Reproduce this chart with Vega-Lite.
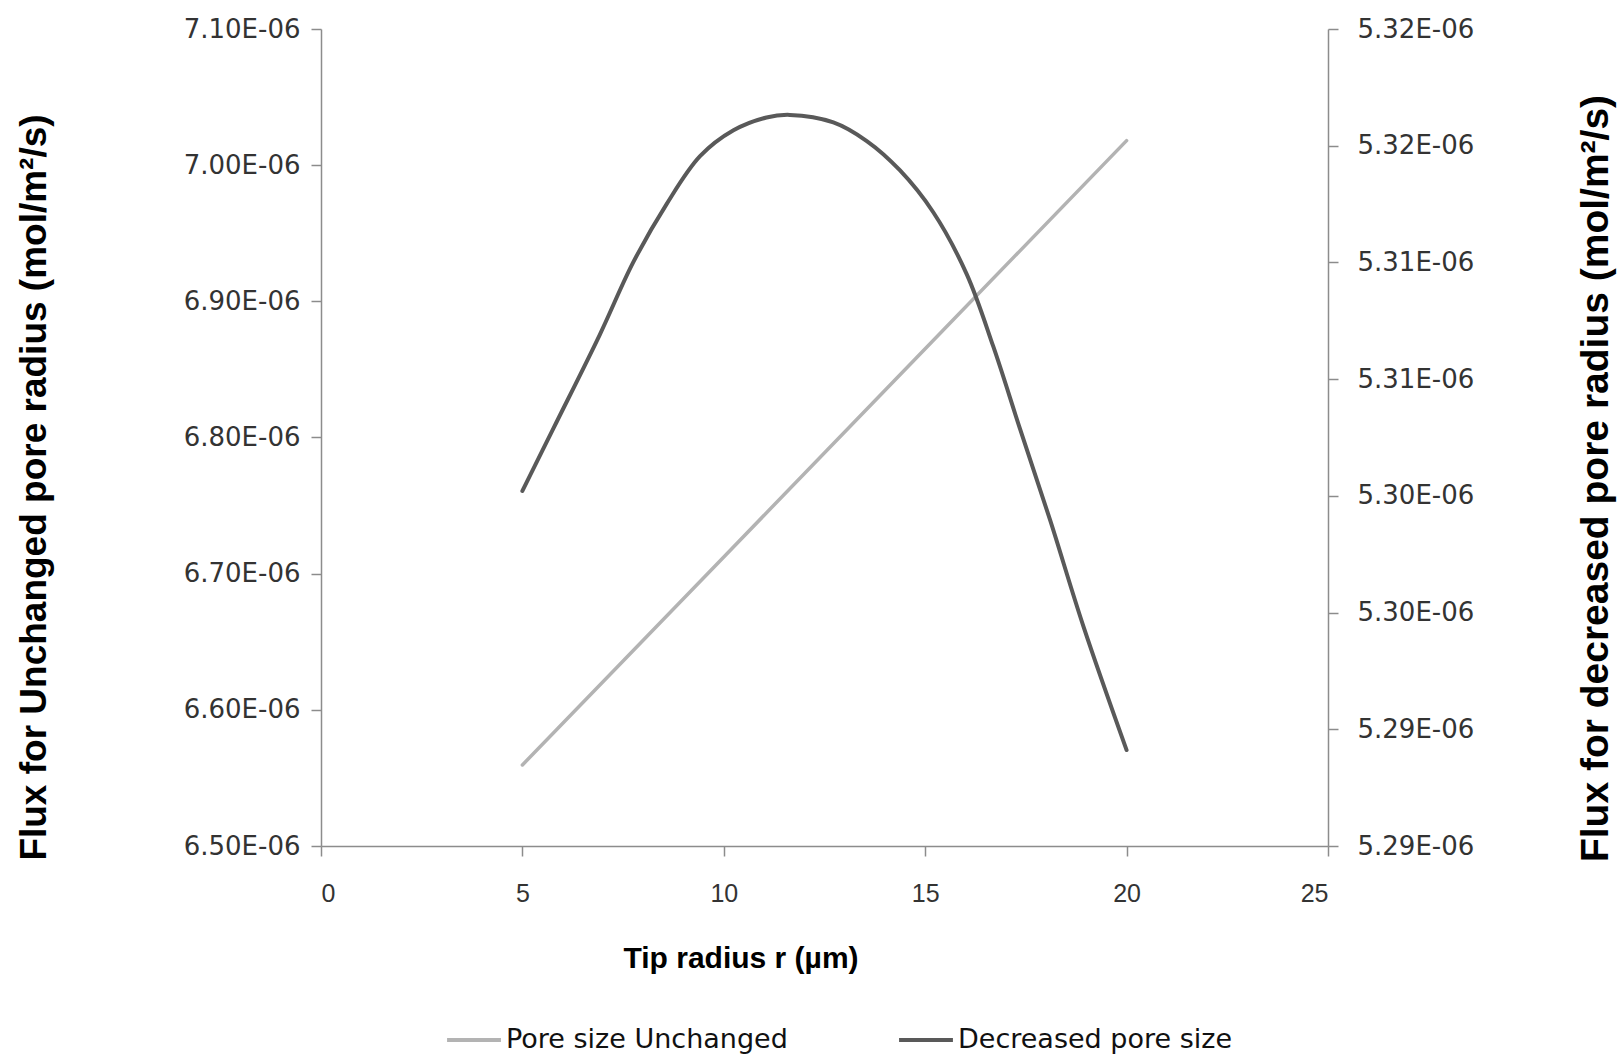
{
  "$schema": "https://vega.github.io/schema/vega-lite/v6.json",
  "width": 1007,
  "height": 817,
  "autosize": {"type": "none"},
  "padding": {"left": 321, "top": 29, "right": 296, "bottom": 213},
  "background": "white",
  "datasets": {
    "unchanged": [
      {"r": 5, "series": "Pore size Unchanged", "flux": 6.5595e-6},
      {"r": 10, "series": "Pore size Unchanged", "flux": 6.7123e-6},
      {"r": 15, "series": "Pore size Unchanged", "flux": 6.8652e-6},
      {"r": 20, "series": "Pore size Unchanged", "flux": 7.018e-6}
    ],
    "decreased": [
      {"r": 5.0, "series": "Decreased pore size", "flux": 5.30021e-6},
      {"r": 5.77, "series": "Decreased pore size", "flux": 5.30289e-6},
      {"r": 6.92, "series": "Decreased pore size", "flux": 5.30690e-6},
      {"r": 7.75, "series": "Decreased pore size", "flux": 5.31000e-6},
      {"r": 8.58, "series": "Decreased pore size", "flux": 5.31250e-6},
      {"r": 9.41, "series": "Decreased pore size", "flux": 5.31455e-6},
      {"r": 10.24, "series": "Decreased pore size", "flux": 5.31566e-6},
      {"r": 11.06, "series": "Decreased pore size", "flux": 5.31621e-6},
      {"r": 11.64, "series": "Decreased pore size", "flux": 5.31632e-6},
      {"r": 12.72, "series": "Decreased pore size", "flux": 5.31600e-6},
      {"r": 13.55, "series": "Decreased pore size", "flux": 5.31520e-6},
      {"r": 14.37, "series": "Decreased pore size", "flux": 5.31395e-6},
      {"r": 15.2, "series": "Decreased pore size", "flux": 5.31215e-6},
      {"r": 16.03, "series": "Decreased pore size", "flux": 5.30950e-6},
      {"r": 16.69, "series": "Decreased pore size", "flux": 5.30640e-6},
      {"r": 17.35, "series": "Decreased pore size", "flux": 5.30289e-6},
      {"r": 18.1, "series": "Decreased pore size", "flux": 5.29897e-6},
      {"r": 18.93, "series": "Decreased pore size", "flux": 5.2944e-6},
      {"r": 20.0, "series": "Decreased pore size", "flux": 5.28911e-6}
    ]
  },
  "layer": [
    {
      "data": {"name": "unchanged"},
      "mark": {"type": "line", "strokeWidth": 3.5, "strokeCap": "round"},
      "encoding": {
        "x": {
          "field": "r",
          "type": "quantitative",
          "scale": {"domain": [0, 25], "nice": false, "zero": false},
          "axis": {
            "values": [0, 5, 10, 15, 20, 25],
            "title": "Tip radius r (µm)",
            "titleFont": "Liberation Sans",
            "titleFontSize": 30,
            "titleFontWeight": "bold",
            "titleColor": "#000000",
            "titleX": 419.5,
            "titleY": 112,
            "titleAlign": "center",
            "titleBaseline": "middle",
            "labelFont": "Liberation Sans",
            "labelFontSize": 25,
            "labelColor": "#333333",
            "labelPadding": 25,
            "tickSize": 10,
            "grid": false
          }
        },
        "y": {
          "field": "flux",
          "type": "quantitative",
          "scale": {"domain": [6.5e-6, 7.1e-6], "nice": false, "zero": false},
          "axis": {
            "orient": "left",
            "values": [6.5e-6, 6.6e-6, 6.7e-6, 6.8e-6, 6.9e-6, 7.0e-6, 7.1e-6],
            "labelExpr": "format(datum.value*1e6 + 1e-7, '.2f') + 'E-06'",
            "title": "Flux for Unchanged pore radius (mol/m²/s)",
            "titleFont": "Liberation Sans",
            "titleFontSize": 37,
            "titleFontWeight": "bold",
            "titleColor": "#000000",
            "titleAngle": 270,
            "titleX": -287,
            "titleY": 458,
            "titleAlign": "center",
            "titleBaseline": "middle",
            "labelFont": "DejaVu Sans",
            "labelFontSize": 26,
            "labelColor": "#333333",
            "labelPadding": 11,
            "tickSize": 10,
            "grid": false
          }
        },
        "color": {
          "field": "series",
          "type": "nominal",
          "scale": {"domain": ["Pore size Unchanged", "Decreased pore size"], "range": ["#b3b3b3", "#595959"]},
          "legend": {
            "orient": "none",
            "legendX": 124,
            "legendY": 982,
            "direction": "horizontal",
            "title": null,
            "symbolType": "stroke",
            "symbolSize": 2900,
            "symbolStrokeWidth": 4,
            "labelFont": "DejaVu Sans",
            "labelFontSize": 27,
            "labelColor": "#111111",
            "labelLimit": 500,
            "labelOffset": 3,
            "columnPadding": 103,
            "padding": 0
          }
        }
      }
    },
    {
      "data": {"name": "decreased"},
      "mark": {"type": "line", "strokeWidth": 4, "interpolate": "catmull-rom", "strokeCap": "round"},
      "encoding": {
        "x": {"field": "r", "type": "quantitative"},
        "y": {
          "field": "flux",
          "type": "quantitative",
          "scale": {"domain": [5.285e-6, 5.32e-6], "nice": false, "zero": false},
          "axis": {
            "orient": "right",
            "values": [5.285e-6, 5.29e-6, 5.295e-6, 5.3e-6, 5.305e-6, 5.31e-6, 5.315e-6, 5.32e-6],
            "labelExpr": "format(datum.value*1e6 + 1e-7, '.2f') + 'E-06'",
            "title": "Flux for decreased pore radius (mol/m²/s)",
            "titleFont": "Liberation Sans",
            "titleFontSize": 39,
            "titleFontWeight": "bold",
            "titleColor": "#000000",
            "titleAngle": 270,
            "titleX": 267,
            "titleY": 449,
            "titleAlign": "center",
            "titleBaseline": "middle",
            "labelFont": "DejaVu Sans",
            "labelFontSize": 26,
            "labelColor": "#333333",
            "labelPadding": 19,
            "tickSize": 10,
            "grid": false
          }
        },
        "color": {"field": "series", "type": "nominal"}
      }
    }
  ],
  "resolve": {"scale": {"y": "independent"}},
  "config": {
    "view": {"stroke": null},
    "axis": {
      "domainColor": "#8c8c8c",
      "domainWidth": 1.5,
      "tickColor": "#8c8c8c",
      "tickWidth": 1.5
    }
  }
}
